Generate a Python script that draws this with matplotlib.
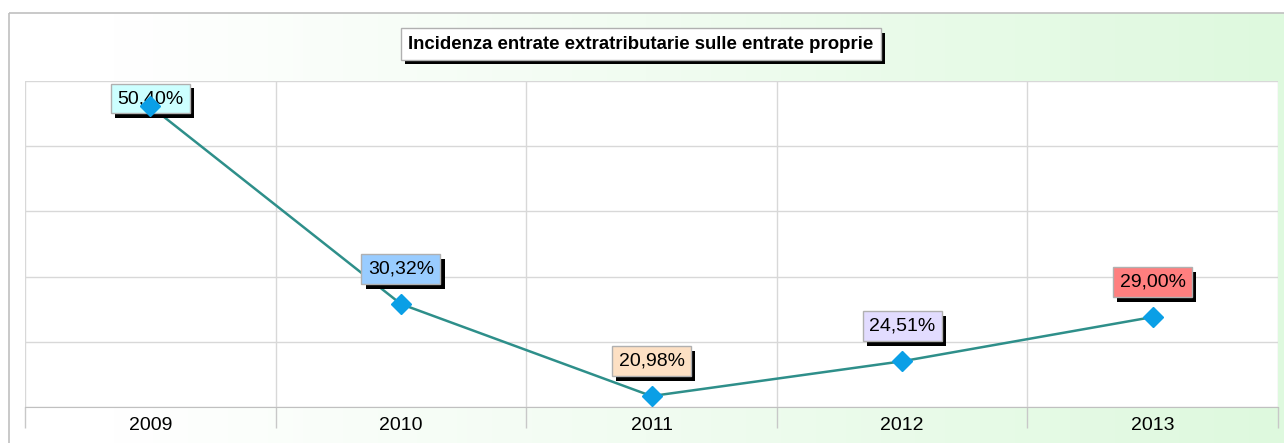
import matplotlib
matplotlib.use("Agg")
import matplotlib.pyplot as plt
import numpy as np
from matplotlib import patheffects as pe
from matplotlib.patches import Rectangle
from matplotlib.colors import LinearSegmentedColormap

years = ["2009", "2010", "2011", "2012", "2013"]
values = [50.40, 30.32, 20.98, 24.51, 29.00]
labels = ["50,40%", "30,32%", "20,98%", "24,51%", "29,00%"]
label_colors = ["#ccffff", "#99ccff", "#fde0c4", "#e2dcff", "#ff7f7f"]
title = "Incidenza entrate extratributarie sulle entrate proprie"

W, H = 1284, 443
fig = plt.figure(figsize=(W / 100, H / 100), dpi=100)
fig.patch.set_facecolor("white")

# background panel with horizontal gradient
bg = fig.add_axes([0, 0, 1, 1], zorder=-10)
bg.set_xlim(0, W)
bg.set_ylim(H, 0)
bg.axis("off")
grad = np.linspace(0, 1, 256).reshape(1, -1)
cmap = LinearSegmentedColormap.from_list("g", [(0, "#ffffff"), (0.08, "#ffffff"), (0.5, "#f1fcf1"), (1, "#def9de")])
bg.imshow(grad, cmap=cmap, extent=[9, W, H + 5, 13], aspect="auto", zorder=0)
bg.add_patch(Rectangle((9, 13), W, H, fill=False, edgecolor="#c0c0c0", lw=1.2, zorder=1))

# title box
ptitle = bg.text(641, 44, title, ha="center", va="center", fontsize=13.4, fontweight="bold",
                 family="Liberation Sans", color="black", zorder=5,
                 bbox=dict(boxstyle="square,pad=0.38", facecolor="white", edgecolor="#b0b0b0", lw=1))
ptitle.get_bbox_patch().set_path_effects([pe.withSimplePatchShadow(offset=(3, -3.5), shadow_rgbFace="black", alpha=1)])

left, right, top, bottom = 25, 1278, 81, 407
ax = fig.add_axes([left / W, 1 - bottom / H, (right - left) / W, (bottom - top) / H])
ax.set_facecolor("white")
x = np.arange(len(years))
ymin, ymax = 19.87, 52.95
ax.set_xlim(-0.5, len(years) - 0.5)
ax.set_ylim(ymin, ymax)

ax.set_yticks(np.linspace(ymin, ymax, 6))
ax.set_yticklabels([])
ax.tick_params(axis="y", length=0)
ax.set_xticks(x)
ax.set_xticklabels(years, fontsize=14, family="Liberation Sans")
ax.tick_params(axis="x", which="major", length=0, pad=7)
ax.set_xticks(np.arange(-0.5, len(years)), minor=True)
ax.tick_params(axis="x", which="minor", length=15, color="#c8c8c8", width=1)
ax.grid(True, axis="y", color="#d8d8d8", lw=1)
ax.grid(True, axis="x", which="minor", color="#d8d8d8", lw=1)
ax.grid(False, axis="x", which="major")
for s in ["top", "right", "left"]:
    ax.spines[s].set_visible(False)
ax.spines["bottom"].set_color("#c0c0c0")

ax.plot(x, values, color="#2e8f8a", lw=1.8, zorder=3)
ax.plot(x, values, ls="none", marker="D", ms=10, color="#0a9fe6", zorder=6)

for xi, v, lab, c in zip(x, values, labels, label_colors):
    ly = min(v + 3.55, ymax - 1.78)
    t = ax.text(xi, ly, lab, ha="center", va="center", fontsize=14, family="Liberation Sans",
                color="black", zorder=5,
                bbox=dict(boxstyle="square,pad=0.33", facecolor=c, edgecolor="#b0b0b0", lw=1))
    t.get_bbox_patch().set_path_effects([pe.withSimplePatchShadow(offset=(3, -3.5), shadow_rgbFace="black", alpha=1)])

fig.savefig("out.png", dpi=100)
